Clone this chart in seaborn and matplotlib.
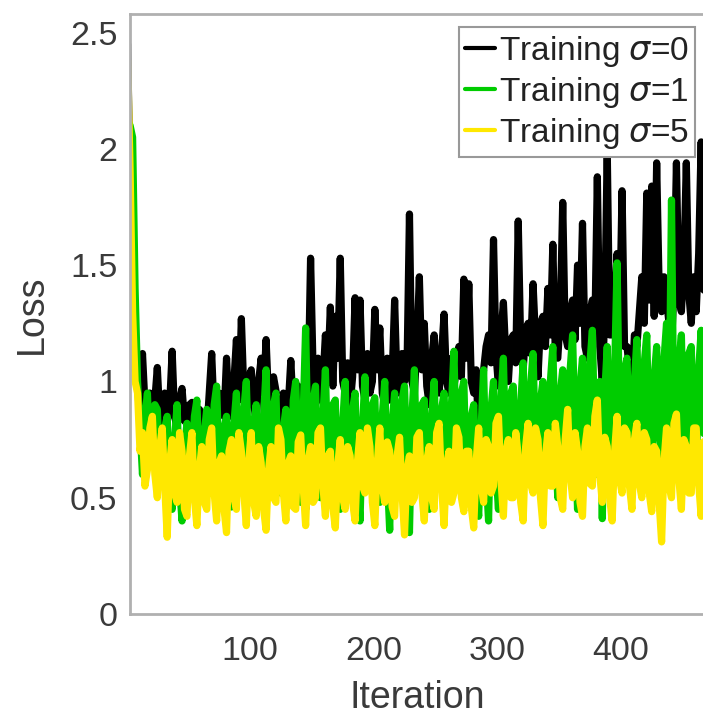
import numpy as np
import pandas as pd
import matplotlib
matplotlib.use("Agg")
import matplotlib.pyplot as plt
import seaborn as sns

iterations = list(range(1, 470, 2))

loss_sigma0 = [
    2.45, 1.80, 1.40, 1.05, 1.00, 0.85, 1.12, 0.90, 0.86, 0.95,
    0.80, 0.92, 1.06, 0.84, 0.82, 0.95, 0.83, 0.90, 1.13, 0.85,
    0.80, 0.92, 0.97, 0.83, 0.82, 0.90, 0.91, 0.80, 0.80, 0.88,
    0.86, 0.82, 0.78, 0.95, 1.12, 0.85, 0.80, 0.95, 0.92, 0.85,
    1.10, 0.88, 0.85, 1.00, 1.18, 0.92, 1.27, 0.95, 0.85, 1.02,
    1.05, 0.90, 0.83, 1.00, 1.10, 0.95, 1.18, 0.92, 0.90, 1.02,
    0.96, 0.88, 0.80, 0.95, 0.79, 0.90, 1.09, 0.88, 0.85, 0.98,
    0.88, 0.85, 0.45, 0.95, 1.53, 1.05, 0.90, 1.10, 0.92, 1.00,
    1.20, 1.05, 1.32, 0.98, 1.28, 1.10, 1.53, 1.00, 0.95, 1.08,
    0.90, 1.02, 1.36, 1.05, 1.35, 0.98, 0.92, 1.12, 0.95, 1.00,
    1.31, 1.05, 1.23, 0.95, 0.90, 1.10, 0.92, 1.02, 1.35, 0.98,
    0.95, 1.12, 1.00, 1.05, 1.72, 1.00, 0.95, 1.15, 1.45, 1.05,
    1.25, 0.98, 0.90, 1.10, 1.20, 1.02, 0.95, 1.12, 1.29, 1.00,
    0.95, 1.10, 0.98, 1.05, 1.15, 1.02, 1.44, 1.10, 1.42, 1.00,
    0.95, 1.05, 0.75, 1.00, 1.05, 1.15, 1.20, 1.08, 1.61, 1.12,
    0.98, 1.20, 1.34, 1.10, 1.00, 1.18, 1.20, 1.08, 1.69, 1.15,
    1.05, 1.22, 1.25, 1.12, 1.42, 1.18, 1.02, 1.25, 1.28, 1.15,
    1.40, 1.20, 1.59, 1.12, 1.10, 1.28, 1.77, 1.20, 1.15, 1.30,
    1.35, 1.18, 1.50, 1.25, 1.68, 1.15, 1.10, 1.30, 1.35, 1.22,
    1.88, 1.15, 1.00, 1.28, 2.00, 1.20, 1.20, 1.35, 1.55, 1.25,
    1.82, 1.15, 1.15, 1.05, 0.95, 1.20, 1.15, 1.30, 1.45, 1.25,
    1.81, 1.35, 1.84, 1.28, 1.94, 1.40, 1.30, 1.45, 1.35, 1.25,
    1.15, 1.40, 1.94, 1.35, 1.30, 1.50, 1.94, 1.38, 1.25, 1.45,
    1.30, 1.55, 2.03, 1.40, 1.35]

loss_sigma1 = [
    2.12, 2.10, 2.05, 1.40, 1.00, 0.80, 0.60, 0.85, 0.95, 0.65,
    0.72, 0.90, 0.88, 0.62, 0.55, 0.80, 0.85, 0.58, 0.45, 0.75,
    0.90, 0.55, 0.40, 0.72, 0.82, 0.50, 0.62, 0.85, 0.92, 0.58,
    0.50, 0.78, 0.88, 0.52, 0.58, 0.90, 0.98, 0.62, 0.52, 0.80,
    0.85, 0.55, 0.46, 0.82, 0.95, 0.60, 0.60, 0.88, 1.00, 0.65,
    0.55, 0.82, 0.90, 0.58, 0.50, 0.85, 1.05, 0.62, 0.60, 0.90,
    0.95, 0.55, 0.52, 0.80, 0.88, 0.60, 0.55, 0.92, 1.00, 0.65,
    0.48, 0.85, 1.23, 0.70, 0.62, 0.92, 0.98, 0.58, 0.50, 0.85,
    1.05, 0.62, 0.58, 0.90, 0.92, 0.55, 0.45, 0.82, 1.00, 0.60,
    0.52, 0.88, 0.95, 0.58, 0.40, 0.80, 1.02, 0.62, 0.55, 0.90,
    0.93, 0.55, 0.48, 0.85, 1.00, 0.60, 0.36, 0.82, 0.95, 0.58,
    0.60, 0.92, 0.98, 0.62, 0.35, 0.85, 1.05, 0.60, 0.55, 0.90,
    0.92, 0.55, 0.45, 0.85, 1.00, 0.62, 0.58, 0.88, 0.95, 0.60,
    0.50, 0.90, 1.13, 0.65, 0.62, 0.95, 1.00, 0.58, 0.48, 0.85,
    0.90, 0.55, 0.42, 0.80, 1.05, 0.60, 0.40, 0.88, 1.00, 0.62,
    0.45, 0.92, 1.10, 0.65, 0.60, 0.95, 0.98, 0.62, 0.52, 0.90,
    1.08, 0.68, 0.65, 0.98, 1.12, 0.70, 0.55, 0.92, 1.00, 0.68,
    0.62, 1.00, 1.15, 0.72, 0.50, 0.95, 1.05, 0.68, 0.70, 1.05,
    1.20, 0.75, 0.45, 0.98, 1.10, 0.70, 0.75, 1.08, 1.22, 0.72,
    0.60, 1.00, 0.41, 0.95, 1.15, 0.75, 0.70, 1.05, 1.51, 0.80,
    0.65, 1.05, 1.10, 0.72, 0.58, 1.00, 1.18, 0.75, 0.72, 1.08,
    1.20, 0.70, 0.55, 1.02, 1.15, 0.78, 0.68, 1.10, 1.25, 0.80,
    1.78, 0.75, 0.62, 1.08, 1.20, 0.72, 0.70, 1.12, 1.15, 0.75,
    0.58, 1.05, 1.22, 0.78, 0.75]

loss_sigma5 = [
    2.38, 1.90, 1.30, 1.00, 0.95, 0.70, 0.78, 0.55, 0.62, 0.80,
    0.85, 0.60, 0.50, 0.72, 0.80, 0.55, 0.33, 0.65, 0.75, 0.52,
    0.48, 0.78, 0.70, 0.45, 0.42, 0.68, 0.78, 0.50, 0.38, 0.62,
    0.72, 0.48, 0.45, 0.75, 0.80, 0.52, 0.40, 0.65, 0.68, 0.45,
    0.35, 0.70, 0.75, 0.50, 0.45, 0.78, 0.70, 0.52, 0.38, 0.66,
    0.78, 0.48, 0.42, 0.72, 0.65, 0.45, 0.36, 0.62, 0.72, 0.50,
    0.48, 0.80, 0.75, 0.52, 0.40, 0.65, 0.68, 0.46, 0.45, 0.74,
    0.77, 0.55, 0.38, 0.66, 0.72, 0.48, 0.50, 0.78, 0.80, 0.55,
    0.42, 0.68, 0.70, 0.46, 0.37, 0.64, 0.75, 0.50, 0.45, 0.72,
    0.68, 0.48, 0.40, 0.66, 0.78, 0.55, 0.52, 0.80, 0.72, 0.48,
    0.38, 0.65, 0.80, 0.55, 0.48, 0.74, 0.70, 0.46, 0.42, 0.68,
    0.76, 0.52, 0.34, 0.62, 0.68, 0.48, 0.50, 0.76, 0.78, 0.52,
    0.40, 0.66, 0.72, 0.50, 0.45, 0.78, 0.82, 0.55, 0.38, 0.64,
    0.70, 0.48, 0.52, 0.80, 0.76, 0.50, 0.44, 0.70, 0.70, 0.46,
    0.37, 0.66, 0.80, 0.55, 0.48, 0.75, 0.72, 0.52, 0.55, 0.82,
    0.85, 0.58, 0.42, 0.70, 0.75, 0.50, 0.50, 0.78, 0.68, 0.48,
    0.40, 0.72, 0.82, 0.56, 0.52, 0.80, 0.75, 0.50, 0.38, 0.68,
    0.78, 0.55, 0.55, 0.82, 0.72, 0.50, 0.45, 0.75, 0.88, 0.60,
    0.50, 0.78, 0.70, 0.48, 0.42, 0.72, 0.80, 0.56, 0.55, 0.85,
    0.92, 0.60, 0.48, 0.76, 0.72, 0.50, 0.40, 0.70, 0.85, 0.58,
    0.52, 0.80, 0.78, 0.55, 0.45, 0.75, 0.82, 0.56, 0.50, 0.78,
    0.75, 0.52, 0.44, 0.72, 0.70, 0.48, 0.31, 0.66, 0.80, 0.55,
    0.50, 0.82, 0.86, 0.58, 0.45, 0.75, 0.72, 0.52, 0.52, 0.80,
    0.80, 0.56, 0.42, 0.74, 0.75]

series_labels = ["Training $\\sigma$=0", "Training $\\sigma$=1", "Training $\\sigma$=5"]
series_colors = ["#000000", "#00cc00", "#ffe800"]

x_ticks = [100, 200, 300, 400]
y_ticks = [0, 0.5, 1, 1.5, 2, 2.5]
y_tick_labels = ["0", "0.5", "1", "1.5", "2", "2.5"]

# ---- build long-form table ----
frames = []
for lab, vals in zip(series_labels, [loss_sigma0, loss_sigma1, loss_sigma5]):
    frames.append(pd.DataFrame({"Iteration": iterations, "Loss": vals, "series": lab}))
df = pd.concat(frames, ignore_index=True)

sns.set_theme(style="white")
plt.rcParams["font.family"] = ["Liberation Sans", "DejaVu Sans"]

W, H = 703, 719
fig = plt.figure(figsize=(W / 100, H / 100), dpi=100)
left, right, top, bottom = 130, 704, 14, 614
ax = fig.add_axes([left / W, (H - bottom) / H, (right - left) / W, (bottom - top) / H])

sns.lineplot(data=df, x="Iteration", y="Loss", hue="series",
             hue_order=series_labels,
             palette=dict(zip(series_labels, series_colors)),
             estimator=None, sort=False, linewidth=5.2, ax=ax)

ax.set_xlim(2.9, 467.3)
ax.set_ylim(0, 2.58)
ax.set_xticks(x_ticks)
ax.set_xticklabels([str(t) for t in x_ticks])
ax.set_yticks(y_ticks)
ax.set_yticklabels(y_tick_labels)

ax.tick_params(axis="both", direction="in", length=6, width=1.2, color="#999999",
               labelsize=24.5, labelcolor="#3a3a3a")
ax.tick_params(axis="x", pad=16)
ax.tick_params(axis="y", pad=9)

for s in ax.spines.values():
    s.set_color("#b0b0b0")
    s.set_linewidth(2.0)

ax.set_xlabel("Iteration", fontsize=27, color="#3a3a3a", labelpad=9)
ax.set_ylabel("Loss", fontsize=27, color="#3a3a3a")
ax.yaxis.set_label_coords((50 - left) / (right - left), 0.5)

leg = ax.legend(loc="upper right", bbox_to_anchor=(695 / W, 1 - 27 / H),
                bbox_transform=fig.transFigure, borderaxespad=0,
                fontsize=24, frameon=True, fancybox=False, framealpha=1,
                edgecolor="#999999", handlelength=0.9, handletextpad=0.1,
                labelspacing=0.18, borderpad=0.2)
leg.get_frame().set_linewidth(1.5)
for t in leg.get_texts():
    t.set_color("#222222")
for h in leg.get_lines():
    h.set_linewidth(3.0)

fig.savefig("out.png", dpi=100)
